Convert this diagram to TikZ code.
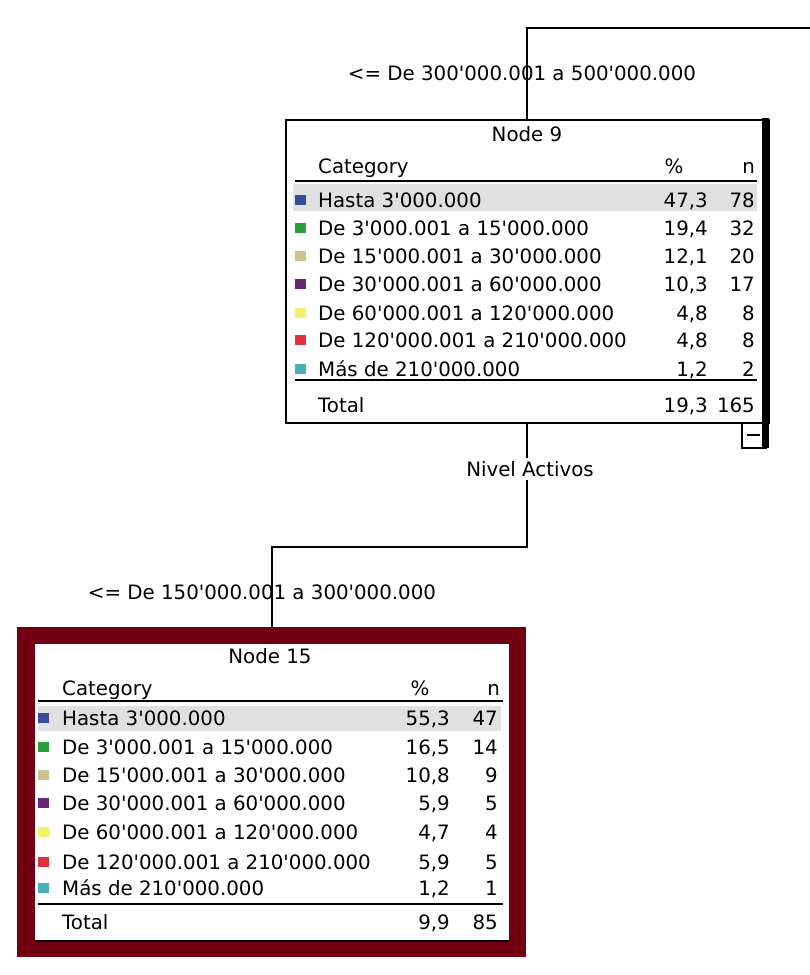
\documentclass[tikz,border=0pt]{standalone}
\usepackage{fontspec}
\setmainfont{DejaVu Sans}
\definecolor{cblue}{HTML}{3A4B9E}
\definecolor{cgreen}{HTML}{2E9E3A}
\definecolor{ctan}{HTML}{CBC290}
\definecolor{cpurple}{HTML}{6A2676}
\definecolor{cyellow}{HTML}{F2F26A}
\definecolor{cred}{HTML}{E0303C}
\definecolor{cteal}{HTML}{46B2B4}
\definecolor{bord}{HTML}{720012}
\definecolor{hl}{HTML}{E0E0E0}
\newcommand{\qq}{\textquotesingle}
\begin{document}
\begin{tikzpicture}[x=1pt,y=-1pt,
  txt/.style={inner sep=0pt, text height=14.5pt, text depth=0pt, font=\fontsize{19.8}{22}\selectfont},
  lt/.style={txt, anchor=west},
  rt/.style={txt, anchor=east},
  sq/.style={minimum size=10.5pt, inner sep=0pt},
  conn/.style={line width=1.8pt},
  hline/.style={line width=2.2pt},
  tline/.style={line width=1.6pt}]
\useasboundingbox (0,0) rectangle (810,975);

% ---------- Node 9 ----------
\node[draw, line width=1.6pt, minimum width=483pt, minimum height=303pt, anchor=north west, inner sep=0pt] (n9) at (285,119) {};
\fill (761.5,118.2) rectangle (768.5,447.5);
\node[draw, line width=1.6pt, minimum width=24pt, minimum height=25pt, anchor=north west, inner sep=0pt] (col9) at (741,422) {};
\draw[line width=1.4pt] (747,435) -- (760,435);

\node[txt] (t9) at (527,134) {Node 9};
\node[lt] (h9a) at (318,166) {Category};
\node[txt] (h9b) at (674,166) {\%};
\node[rt] (h9c) at (755,166) {n};
\draw[hline] (295,181) -- (757,181);
\fill[hl] (293,184) rectangle (757,211);

\node[sq, fill=cblue]   (s91) at (300.5,200) {};
\node[sq, fill=cgreen]  (s92) at (300.5,228) {};
\node[sq, fill=ctan]    (s93) at (300.5,256) {};
\node[sq, fill=cpurple] (s94) at (300.5,284) {};
\node[sq, fill=cyellow] (s95) at (300.5,313) {};
\node[sq, fill=cred]    (s96) at (300.5,340) {};
\node[sq, fill=cteal]   (s97) at (300.5,369) {};

\node[lt] (r91) at (318,200) {Hasta 3\qq000.000};
\node[lt] (r92) at (318,228) {De 3\qq000.001 a 15\qq000.000};
\node[lt] (r93) at (318,256) {De 15\qq000.001 a 30\qq000.000};
\node[lt] (r94) at (318,284) {De 30\qq000.001 a 60\qq000.000};
\node[lt] (r95) at (318,313) {De 60\qq000.001 a 120\qq000.000};
\node[lt] (r96) at (318,340) {De 120\qq000.001 a 210\qq000.000};
\node[lt] (r97) at (318,369) {Más de 210\qq000.000};

\node[rt] (p91) at (708,200) {47,3};
\node[rt] (p92) at (708,228) {19,4};
\node[rt] (p93) at (708,256) {12,1};
\node[rt] (p94) at (708,284) {10,3};
\node[rt] (p95) at (708,313) {4,8};
\node[rt] (p96) at (708,340) {4,8};
\node[rt] (p97) at (708,369) {1,2};

\node[rt] (c91) at (755,200) {78};
\node[rt] (c92) at (755,228) {32};
\node[rt] (c93) at (755,256) {20};
\node[rt] (c94) at (755,284) {17};
\node[rt] (c95) at (755,313) {8};
\node[rt] (c96) at (755,340) {8};
\node[rt] (c97) at (755,369) {2};

\draw[tline] (295,380) -- (757,380);
\node[lt] (tot9) at (318,405) {Total};
\node[rt] (tp9) at (708,405) {19,3};
\node[rt] (tc9) at (755,405) {165};

% ---------- Node 15 ----------
\node[fill=bord, minimum width=509pt, minimum height=330pt, anchor=north west, inner sep=0pt] (n15) at (17,627) {};
\fill[white] (35,644) rectangle (509,941);
\draw[line width=1.4pt] (35,941) -- (509,941);

\node[txt] (t15) at (270,656) {Node 15};
\node[lt] (h15a) at (62,688) {Category};
\node[txt] (h15b) at (420,688) {\%};
\node[rt] (h15c) at (500,688) {n};
\draw[hline] (38,701) -- (503,701);
\fill[hl] (38,706) rectangle (501,731);

\node[sq, fill=cblue]   (s151) at (43.5,718) {};
\node[sq, fill=cgreen]  (s152) at (43.5,747) {};
\node[sq, fill=ctan]    (s153) at (43.5,775) {};
\node[sq, fill=cpurple] (s154) at (43.5,803) {};
\node[sq, fill=cyellow] (s155) at (43.5,832) {};
\node[sq, fill=cred]    (s156) at (43.5,862) {};
\node[sq, fill=cteal]   (s157) at (43.5,888) {};

\node[lt] (r151) at (62,718) {Hasta 3\qq000.000};
\node[lt] (r152) at (62,747) {De 3\qq000.001 a 15\qq000.000};
\node[lt] (r153) at (62,775) {De 15\qq000.001 a 30\qq000.000};
\node[lt] (r154) at (62,803) {De 30\qq000.001 a 60\qq000.000};
\node[lt] (r155) at (62,832) {De 60\qq000.001 a 120\qq000.000};
\node[lt] (r156) at (62,862) {De 120\qq000.001 a 210\qq000.000};
\node[lt] (r157) at (62,888) {Más de 210\qq000.000};

\node[rt] (p151) at (450,718) {55,3};
\node[rt] (p152) at (450,747) {16,5};
\node[rt] (p153) at (450,775) {10,8};
\node[rt] (p154) at (450,803) {5,9};
\node[rt] (p155) at (450,832) {4,7};
\node[rt] (p156) at (450,862) {5,9};
\node[rt] (p157) at (450,888) {1,2};

\node[rt] (c151) at (498,718) {47};
\node[rt] (c152) at (498,747) {14};
\node[rt] (c153) at (498,775) {9};
\node[rt] (c154) at (498,803) {5};
\node[rt] (c155) at (498,832) {4};
\node[rt] (c156) at (498,862) {5};
\node[rt] (c157) at (498,888) {1};

\draw[tline] (38,904) -- (503,904);
\node[lt] (tot15) at (62,922) {Total};
\node[rt] (tp15) at (450,922) {9,9};
\node[rt] (tc15) at (498,922) {85};

% ---------- Connectors ----------
\coordinate (top) at (810,28);
\coordinate (jy) at (0,547);
\draw[conn] (top) -| (n9.north);
\draw[conn] (n9.south) -- (n9.south |- jy) -| (n15.north);

\node[txt] (l1) at (522,73) {<= De 300\qq000.001 a 500\qq000.000};
\node[txt, fill=white, inner ysep=4pt] (l2) at (530,469) {Nivel Activos};
\node[txt] (l3) at (262,592) {<= De 150\qq000.001 a 300\qq000.000};
\end{tikzpicture}
\end{document}
